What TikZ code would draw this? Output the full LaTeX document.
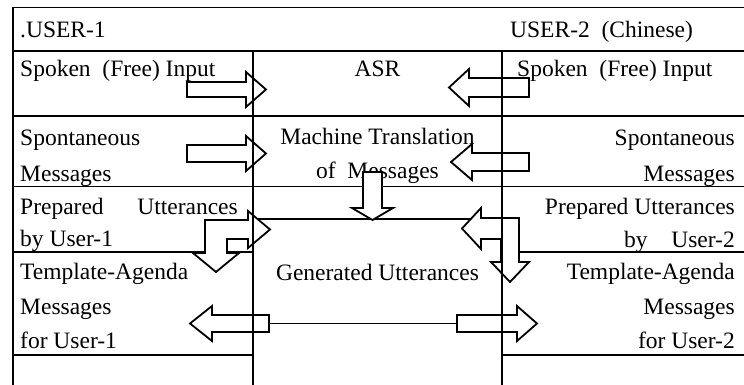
\documentclass[tikz,border=0pt]{standalone}
\usepackage{fontspec}
\setmainfont{Liberation Serif}
\begin{document}
\begin{tikzpicture}[x=1pt,y=-1pt,
  txt/.style={inner sep=0pt, font=\fontsize{23.5}{28}\selectfont},
  rule/.style={line width=1.8pt},
  hair/.style={line width=0.9pt},
  blockarrow/.style={draw, fill=white, line width=1.8pt, line join=miter},
]
\useasboundingbox (0,0) rectangle (744,385);

% --- horizontal rules of the table ---
\draw[rule] (13,7.5) -- (744,7.5);
\draw[rule] (13,51) -- (744,51);
\draw[rule] (13,116) -- (744,116);
\draw[hair] (13,186.5) -- (744,186.5);
\draw[rule] (240,186.5) -- (267,186.5);
\draw[rule] (489,186.5) -- (515,186.5);
\draw[rule] (253,219) -- (481,219);
\draw[rule] (13,251.7) -- (253,251.7);
\draw[rule] (502,251.7) -- (744,251.7);
\draw[rule] (13,355) -- (253,355);
\draw[rule] (502,355) -- (744,355);

% --- header ---
\node[txt, anchor=base west] (user1) at (20,37.5) {.USER-1};
\node[txt, anchor=base west] (user2) at (510,37.5) {USER-2\ \ (Chinese)};

% --- left column ---
\node[txt, anchor=base west] (lspoken) at (20,77) {Spoken\ \ (Free) Input};
\node[txt, anchor=base west] (lspont) at (20,146) {Spontaneous};
\node[txt, anchor=base west] (lmsg) at (20,181) {Messages};
\node[txt, anchor=base west] (lprep) at (20,214) {Prepared};
\node[txt, anchor=base east] (lutt) at (238,214) {Utterances};
\node[txt, anchor=base west] (lby) at (20,246) {by User-1};
\node[txt, anchor=base west] (ltempl) at (20,279) {Template-Agenda};
\node[txt, anchor=base west] (ltmsg) at (20,314) {Messages};
\node[txt, anchor=base west] (lfor) at (20,348) {for User-1};

% --- middle column ---
\node[txt, anchor=base] (asr) at (377.5,77) {ASR};
\node[txt, anchor=base] (mt1) at (377.5,145) {Machine Translation};
\node[txt, anchor=base] (mt2) at (377.5,178) {of\ \ Messages};
\node[txt, anchor=base] (gen) at (377.5,280) {Generated Utterances};

% --- right column ---
\node[txt, anchor=base west] (rspoken) at (517,77) {Spoken\ \ (Free) Input};
\node[txt, anchor=base east] (rspont) at (735,146) {Spontaneous};
\node[txt, anchor=base east] (rmsg) at (735,181) {Messages};
\node[txt, anchor=base east] (rprep) at (735,214) {Prepared Utterances};
\node[txt, anchor=base west] (rbyword) at (624,247) {by};
\node[txt, anchor=base east] (rby) at (735,247) {User-2};
\node[txt, anchor=base east] (rtempl) at (735,279) {Template-Agenda};
\node[txt, anchor=base east] (rtmsg) at (735,314) {Messages};
\node[txt, anchor=base east] (rfor) at (735,348) {for User-2};

% --- block arrows ---
% spoken input into ASR
\draw[blockarrow] (187,82) -- (246,82) -- (246,72) -- (266,89.5) -- (246,107) -- (246,97) -- (187,97) -- cycle;
\draw[blockarrow] (529,78) -- (469,78) -- (469,69) -- (449,87.5) -- (469,106) -- (469,97) -- (529,97) -- cycle;
% spontaneous messages into machine translation
\draw[blockarrow] (187,145) -- (246,145) -- (246,136) -- (266,153.5) -- (246,171) -- (246,162) -- (187,162) -- cycle;
\draw[blockarrow] (529,153) -- (472,153) -- (472,144) -- (451,162) -- (472,180) -- (472,171) -- (529,171) -- cycle;
% translation down to generated utterances
\draw[blockarrow] (363,172) -- (382,172) -- (382,208) -- (393,208) -- (372.5,220) -- (352,208) -- (363,208) -- cycle;
% prepared utterances, split two ways
\draw[blockarrow] (205,220) -- (248,220) -- (248,211) -- (270,229.5) -- (248,248) -- (248,239) -- (227,239) -- (227,253) -- (239,253) -- (216,272) -- (193,253) -- (205,253) -- cycle;
\draw[blockarrow] (519,218) -- (481,218) -- (481,208) -- (462,228.5) -- (481,249) -- (481,239) -- (501,239) -- (501,262) -- (491,262) -- (510,282) -- (529,262) -- (519,262) -- cycle;
% generated utterances out to both template-agenda cells
\draw[blockarrow] (269,315) -- (212,315) -- (212,306) -- (190,323.5) -- (212,341) -- (212,332) -- (269,332) -- cycle;
\draw[blockarrow] (457,315) -- (517,315) -- (517,306) -- (537,323.5) -- (517,341) -- (517,332) -- (457,332) -- cycle;
\coordinate (genL) at (269,323.5);
\coordinate (genR) at (457,323.5);
\draw[hair] (genL) -- (genR);

% --- vertical rules ---
\draw[rule] (13,6.6) -- (13,385);
\draw[rule] (253,51) -- (253,385);
\draw[rule] (502,51) -- (502,385);
\end{tikzpicture}
\end{document}
